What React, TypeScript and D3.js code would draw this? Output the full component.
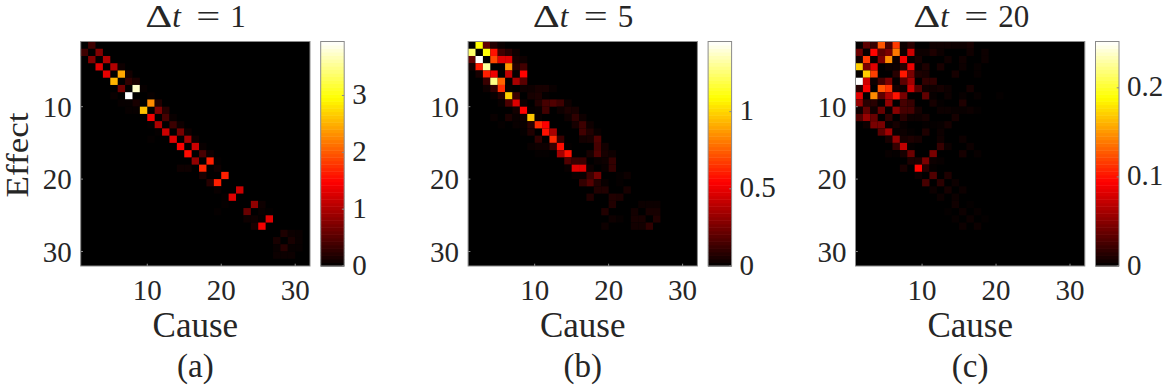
import React from "react";
import { range, scaleBand, scaleLinear } from "d3";

type Cell = [number, number, number]; // effect, cause, value

const nodes = [1, 32];
const axisTicks = [10, 20, 30];
const panelLetters = ["(a)", "(b)", "(c)"];
const steps = ["1", "5", "20"];

const maxA = 3.95;
const maxB = 1.454;
const maxC = 0.252;
const barTicksA = [0, 1, 2, 3];
const barTicksB = [0, 0.5, 1];
const barTicksC = [0, 0.1, 0.2];

const cellsA: Cell[] = [
    [1, 2, 0.36],
    [2, 1, 0.36], [2, 3, 0.75],
    [3, 2, 0.75], [3, 4, 1.03],
    [4, 3, 1.3], [4, 5, 1.03], [4, 6, 0.08],
    [5, 4, 1.34], [5, 6, 2.45], [5, 7, 0.11],
    [6, 5, 2.53], [6, 7, 0.26], [6, 8, 0.14],
    [7, 6, 0.64], [7, 8, 3.75], [7, 9, 0.04],
    [8, 5, 0.05], [8, 7, 3.95], [8, 10, 0.04],
    [9, 6, 0.04], [9, 7, 0.04], [9, 8, 0.14], [9, 10, 2.29], [9, 11, 0.18],
    [10, 7, 0.04], [10, 8, 0.04], [10, 9, 2.6], [10, 11, 0.75], [10, 12, 0.22],
    [11, 10, 1.42], [11, 12, 0.42], [11, 13, 0.05],
    [12, 10, 0.03], [12, 11, 1.0], [12, 13, 0.34], [12, 14, 0.08],
    [13, 11, 0.03], [13, 12, 1.18], [13, 14, 0.68], [13, 15, 0.08],
    [14, 10, 0.03], [14, 13, 1.3], [14, 15, 0.96], [14, 16, 0.08],
    [15, 14, 1.46], [15, 16, 1.18], [15, 17, 0.05],
    [16, 15, 1.54], [16, 17, 0.42], [16, 18, 0.08],
    [17, 16, 0.85], [17, 18, 1.66], [17, 19, 0.03],
    [18, 14, 0.08], [18, 15, 0.08], [18, 17, 1.7], [18, 19, 0.08],
    [19, 17, 0.14], [19, 20, 1.66],
    [20, 18, 0.22], [20, 19, 1.66],
    [21, 19, 0.05], [21, 22, 1.18],
    [22, 20, 0.03], [22, 21, 1.3],
    [23, 20, 0.03], [23, 24, 0.85], [23, 25, 0.08],
    [24, 19, 0.03], [24, 23, 0.6], [24, 25, 0.05], [24, 26, 0.03],
    [25, 23, 0.08], [25, 24, 0.08], [25, 25, 0.03], [25, 26, 1.3],
    [26, 24, 0.14], [26, 25, 1.42],
    [27, 28, 0.17], [27, 29, 0.07], [27, 30, 0.05],
    [28, 27, 0.14], [28, 29, 0.14], [28, 30, 0.05],
    [29, 27, 0.05], [29, 28, 0.22], [29, 29, 0.04], [29, 30, 0.04],
    [30, 27, 0.07], [30, 28, 0.07], [30, 29, 0.07],
];

const cellsB: Cell[] = [
    [1, 2, 1.09], [1, 3, 0.2], [1, 4, 0.07], [1, 5, 0.02],
    [2, 1, 1.24], [2, 3, 1.1], [2, 4, 0.58], [2, 5, 0.14], [2, 6, 0.09], [2, 7, 0.03],
    [3, 1, 0.2], [3, 2, 1.45], [3, 4, 0.7], [3, 5, 0.48], [3, 6, 0.48], [3, 7, 0.05], [3, 8, 0.03],
    [4, 1, 0.04], [4, 2, 0.6], [4, 3, 1.31], [4, 6, 0.87], [4, 7, 0.08], [4, 8, 0.14],
    [5, 2, 0.05], [5, 3, 0.61], [5, 4, 0.51], [5, 6, 0.41], [5, 7, 0.01], [5, 8, 0.55],
    [6, 3, 0.12], [6, 4, 1.28], [6, 5, 0.76], [6, 7, 0.36], [6, 8, 0.19],
    [7, 3, 0.03], [7, 4, 0.1], [7, 5, 0.64], [7, 6, 0.01], [7, 8, 0.03], [7, 9, 0.03], [7, 10, 0.05], [7, 11, 0.05], [7, 12, 0.02],
    [8, 4, 0.02], [8, 5, 0.08], [8, 6, 0.99], [8, 7, 0.12], [8, 9, 0.05], [8, 10, 0.06], [8, 11, 0.01],
    [9, 5, 0.02], [9, 6, 0.16], [9, 7, 0.47], [9, 8, 0.03], [9, 10, 0.07], [9, 11, 0.15], [9, 12, 0.17], [9, 13, 0.13], [9, 14, 0.03],
    [10, 7, 0.04], [10, 8, 0.55], [10, 9, 0.01], [10, 10, 0.02], [10, 11, 0.14], [10, 13, 0.03], [10, 14, 0.06], [10, 15, 0.05],
    [11, 4, 0.02], [11, 6, 0.06], [11, 7, 0.02], [11, 8, 0.03], [11, 9, 0.97], [11, 10, 0.02], [11, 14, 0.03], [11, 15, 0.1], [11, 16, 0.03],
    [12, 5, 0.01], [12, 7, 0.02], [12, 8, 0.02], [12, 9, 0.09], [12, 10, 0.64], [12, 11, 0.54], [12, 15, 0.05], [12, 16, 0.13], [12, 17, 0.03],
    [13, 8, 0.01], [13, 9, 0.07], [13, 11, 0.58], [13, 12, 0.36], [13, 16, 0.14], [13, 17, 0.07], [13, 18, 0.02],
    [14, 10, 0.11], [14, 12, 0.63], [14, 13, 0.12], [14, 16, 0.04], [14, 17, 0.05], [14, 18, 0.17],
    [15, 9, 0.02], [15, 10, 0.03], [15, 11, 0.03], [15, 12, 0.12], [15, 13, 0.57], [15, 14, 0.01], [15, 18, 0.15], [15, 19, 0.04],
    [16, 10, 0.01], [16, 11, 0.01], [16, 13, 0.35], [16, 14, 0.58], [16, 17, 0.05], [16, 18, 0.17], [16, 19, 0.05], [16, 20, 0.03],
    [17, 14, 0.17], [17, 15, 0.12], [17, 16, 0.12], [17, 18, 0.02], [17, 19, 0.03], [17, 20, 0.11],
    [18, 14, 0.02], [18, 15, 0.48], [18, 16, 0.48], [18, 17, 0.03], [18, 19, 0.02], [18, 20, 0.11],
    [19, 15, 0.02], [19, 16, 0.02], [19, 17, 0.13], [19, 18, 0.25], [19, 21, 0.01], [19, 22, 0.03],
    [20, 16, 0.11], [20, 17, 0.18], [20, 18, 0.07], [20, 19, 0.02], [20, 21, 0.01],
    [21, 18, 0.07], [21, 19, 0.07], [21, 22, 0.05],
    [22, 17, 0.07], [22, 20, 0.07], [22, 21, 0.06],
    [23, 20, 0.07], [23, 24, 0.025], [23, 25, 0.025], [23, 26, 0.025],
    [24, 19, 0.07], [24, 23, 0.04], [24, 25, 0.05], [24, 26, 0.05],
    [25, 20, 0.03], [25, 21, 0.015], [25, 23, 0.05], [25, 24, 0.05], [25, 26, 0.07],
    [26, 19, 0.03], [26, 23, 0.04], [26, 24, 0.04], [26, 25, 0.1],
];

const cellsC: Cell[] = [
    [1, 1, 0.002], [1, 2, 0.034], [1, 3, 0.02], [1, 4, 0.126], [1, 5, 0.027], [1, 6, 0.116], [1, 7, 0.005], [1, 8, 0.015], [1, 11, 0.006], [1, 12, 0.006], [1, 13, 0.006], [1, 14, 0.005], [1, 15, 0.005], [1, 16, 0.008],
    [2, 1, 0.04], [2, 2, 0.002], [2, 3, 0.096], [2, 4, 0.034], [2, 5, 0.045], [2, 6, 0.139], [2, 7, 0.005], [2, 8, 0.076], [2, 9, 0.005], [2, 10, 0.005], [2, 11, 0.011], [2, 12, 0.005], [2, 16, 0.006], [2, 18, 0.005],
    [3, 1, 0.006], [3, 2, 0.116], [3, 3, 0.002], [3, 4, 0.045], [3, 5, 0.146], [3, 6, 0.005], [3, 7, 0.091], [3, 8, 0.003], [3, 9, 0.009], [3, 13, 0.006], [3, 15, 0.006], [3, 18, 0.005],
    [4, 1, 0.171], [4, 2, 0.045], [4, 3, 0.083], [4, 5, 0.005], [4, 6, 0.005], [4, 7, 0.015], [4, 8, 0.088], [4, 9, 0.003], [4, 10, 0.011], [4, 12, 0.009], [4, 15, 0.005], [4, 17, 0.003],
    [5, 1, 0.002], [5, 2, 0.171], [5, 3, 0.118], [5, 6, 0.015], [5, 7, 0.103], [5, 8, 0.045], [5, 9, 0.011], [5, 10, 0.009], [5, 14, 0.008], [5, 17, 0.003],
    [6, 1, 0.252], [6, 2, 0.076], [6, 3, 0.005], [6, 4, 0.024], [6, 5, 0.045], [6, 6, 0.002], [6, 7, 0.034], [6, 8, 0.06], [6, 10, 0.018], [6, 11, 0.018],
    [7, 1, 0.015], [7, 2, 0.091], [7, 4, 0.126], [7, 5, 0.113], [7, 6, 0.008], [7, 7, 0.005], [7, 8, 0.076], [7, 9, 0.032], [7, 10, 0.006], [7, 11, 0.006], [7, 12, 0.008], [7, 13, 0.005], [7, 16, 0.008],
    [8, 1, 0.083], [8, 3, 0.146], [8, 4, 0.034], [8, 5, 0.065], [8, 6, 0.101], [8, 7, 0.045], [8, 10, 0.036], [8, 11, 0.003], [8, 13, 0.005], [8, 15, 0.003], [8, 17, 0.003], [8, 20, 0.002],
    [9, 1, 0.055], [9, 2, 0.015], [9, 3, 0.015], [9, 4, 0.002], [9, 5, 0.055], [9, 7, 0.026], [9, 8, 0.02], [9, 11, 0.008], [9, 12, 0.002], [9, 15, 0.011],
    [10, 1, 0.005], [10, 2, 0.036], [10, 3, 0.006], [10, 4, 0.038], [10, 5, 0.002], [10, 6, 0.05], [10, 7, 0.026], [10, 8, 0.026], [10, 9, 0.008], [10, 12, 0.005], [10, 13, 0.005], [10, 14, 0.003], [10, 15, 0.003], [10, 16, 0.005], [10, 17, 0.002],
    [11, 1, 0.03], [11, 2, 0.056], [11, 3, 0.038], [11, 5, 0.018], [11, 7, 0.015], [11, 8, 0.005], [11, 9, 0.005], [11, 10, 0.008], [11, 14, 0.008],
    [12, 2, 0.005], [12, 3, 0.045], [12, 4, 0.045], [12, 5, 0.003], [12, 6, 0.008], [12, 7, 0.003], [12, 10, 0.002], [12, 11, 0.002], [12, 12, 0.003], [12, 13, 0.008],
    [13, 4, 0.034], [13, 5, 0.06], [13, 6, 0.003], [13, 7, 0.005], [13, 8, 0.002], [13, 10, 0.011], [13, 12, 0.005],
    [14, 5, 0.009], [14, 6, 0.055], [14, 7, 0.008], [14, 8, 0.011], [14, 9, 0.008], [14, 12, 0.006], [14, 15, 0.005],
    [15, 6, 0.02], [15, 7, 0.071], [15, 8, 0.002], [15, 12, 0.02], [15, 13, 0.005], [15, 16, 0.005],
    [16, 5, 0.003], [16, 6, 0.002], [16, 7, 0.008], [16, 8, 0.04], [16, 11, 0.045], [16, 15, 0.008], [16, 17, 0.003],
    [17, 8, 0.011], [17, 9, 0.011], [17, 10, 0.045], [17, 11, 0.005], [17, 12, 0.003],
    [18, 7, 0.009], [18, 9, 0.096], [18, 10, 0.015], [18, 11, 0.002],
    [19, 9, 0.005], [19, 11, 0.03], [19, 13, 0.011],
    [20, 10, 0.026], [20, 12, 0.016], [20, 14, 0.005],
    [21, 11, 0.005], [21, 13, 0.008], [21, 15, 0.005],
    [22, 12, 0.005], [22, 14, 0.005],
    [23, 14, 0.006], [23, 16, 0.002],
    [24, 13, 0.002], [24, 15, 0.005], [24, 17, 0.003],
    [25, 14, 0.003], [25, 16, 0.005], [25, 18, 0.002],
    [26, 15, 0.005], [26, 17, 0.005],
];

const panels = [
    { cells: cellsA, max: maxA, barTicks: barTicksA, step: steps[0], letter: panelLetters[0] },
    { cells: cellsB, max: maxB, barTicks: barTicksB, step: steps[1], letter: panelLetters[1] },
    { cells: cellsC, max: maxC, barTicks: barTicksC, step: steps[2], letter: panelLetters[2] },
];

const svgWidth = 1163;
const svgHeight = 388;
const top = 41.5;
const bottom = 266;
const plotWidth = 229.3;
const panelStep = 387.4;
const firstLeft = 80.7;
const serif = "'Liberation Serif', serif";
const inkColor = "#262626";
const boxColor = "#8a8a8a";

// same stops as matlab's hot
const hot = scaleLinear<string>()
    .domain([0, 0.375, 0.75, 1])
    .range(["#000000", "#ff0000", "#ffff00", "#ffffff"])
    .clamp(true);

const Panel = ({ panel, left }: { panel: (typeof panels)[number]; left: number }) => {
    const x = scaleLinear().domain(nodes).range([left, left + plotWidth]);
    const y = scaleLinear().domain(nodes).range([top, bottom]);
    const barLeft = left + plotWidth + 10.7;
    const barRight = barLeft + 23.5;
    const barY = scaleLinear().domain([0, panel.max]).range([bottom, top]);
    const levels = range(64);
    const band = scaleBand<number>().domain(levels).range([bottom, top]);
    const center = left + plotWidth / 2;
    // the two digit title sits a little wider
    const titleLeft = center - (panel.step.length > 1 ? 57 : 50);

    return (
        <g fontFamily={serif} fill={inkColor}>
            <rect x={left} y={top} width={plotWidth} height={bottom - top} fill="#000" />
            {panel.cells.map(([effect, cause, value], i) => (
                <rect
                    key={i}
                    x={x(cause)}
                    y={y(effect)}
                    width={x(cause + 1) - x(cause)}
                    height={y(effect + 1) - y(effect)}
                    fill={hot(value / panel.max)}
                />
            ))}
            <rect x={left} y={top} width={plotWidth} height={bottom - top} fill="none" stroke={boxColor} strokeWidth={1} />
            {axisTicks.map((t) => (
                <g key={t}>
                    <line x1={x(t)} x2={x(t)} y1={bottom} y2={bottom - 2.3} stroke={boxColor} />
                    <line x1={left} x2={left + 2.3} y1={y(t)} y2={y(t)} stroke={boxColor} />
                    <text x={x(t)} y={300} fontSize={29} textAnchor="middle">{t}</text>
                    <text x={left - 9} y={y(t) + 10} fontSize={29} textAnchor="end">{t}</text>
                </g>
            ))}

            {levels.map((l) => (
                <rect
                    key={l}
                    x={barLeft}
                    y={band(l)}
                    width={barRight - barLeft}
                    height={band.bandwidth() + 0.5}
                    fill={hot((l + 0.5) / 64)}
                />
            ))}
            <rect x={barLeft} y={top} width={barRight - barLeft} height={bottom - top} fill="none" stroke={boxColor} strokeWidth={1} />
            {panel.barTicks.map((t) => (
                <g key={t}>
                    <line x1={barRight - 2.3} x2={barRight} y1={barY(t)} y2={barY(t)} stroke={boxColor} />
                    <text x={barRight + 8} y={barY(t) + 8.5} fontSize={29}>{t}</text>
                </g>
            ))}

            <g fontSize={31}>
                <text x={titleLeft} y={27} textLength={27} lengthAdjust="spacingAndGlyphs">Δ</text>
                <text x={titleLeft + 27} y={27} fontStyle="italic">t</text>
                <text x={titleLeft + 51} y={27} textLength={24} lengthAdjust="spacingAndGlyphs">=</text>
                <text x={titleLeft + 85} y={27}>{panel.step}</text>
            </g>
            <text x={center} y={337} fontSize={35} textAnchor="middle">Cause</text>
            <text x={center} y={377} fontSize={33} textAnchor="middle">{panel.letter}</text>
        </g>
    );
};

const App = () => {
    return (
        <svg
            width={svgWidth}
            height={svgHeight}
            style={{ position: "absolute", left: 0, top: 0, background: "#fff" }}
        >
            {panels.map((panel, i) => (
                <Panel key={i} panel={panel} left={firstLeft + i * panelStep} />
            ))}
            <text
                transform={`translate(27.5,155) rotate(-90)`}
                fontFamily={serif}
                fontSize={31}
                fill={inkColor}
                textAnchor="middle"
                textLength={85}
                lengthAdjust="spacingAndGlyphs"
            >
                Effect
            </text>
        </svg>
    );
};

export default App;
